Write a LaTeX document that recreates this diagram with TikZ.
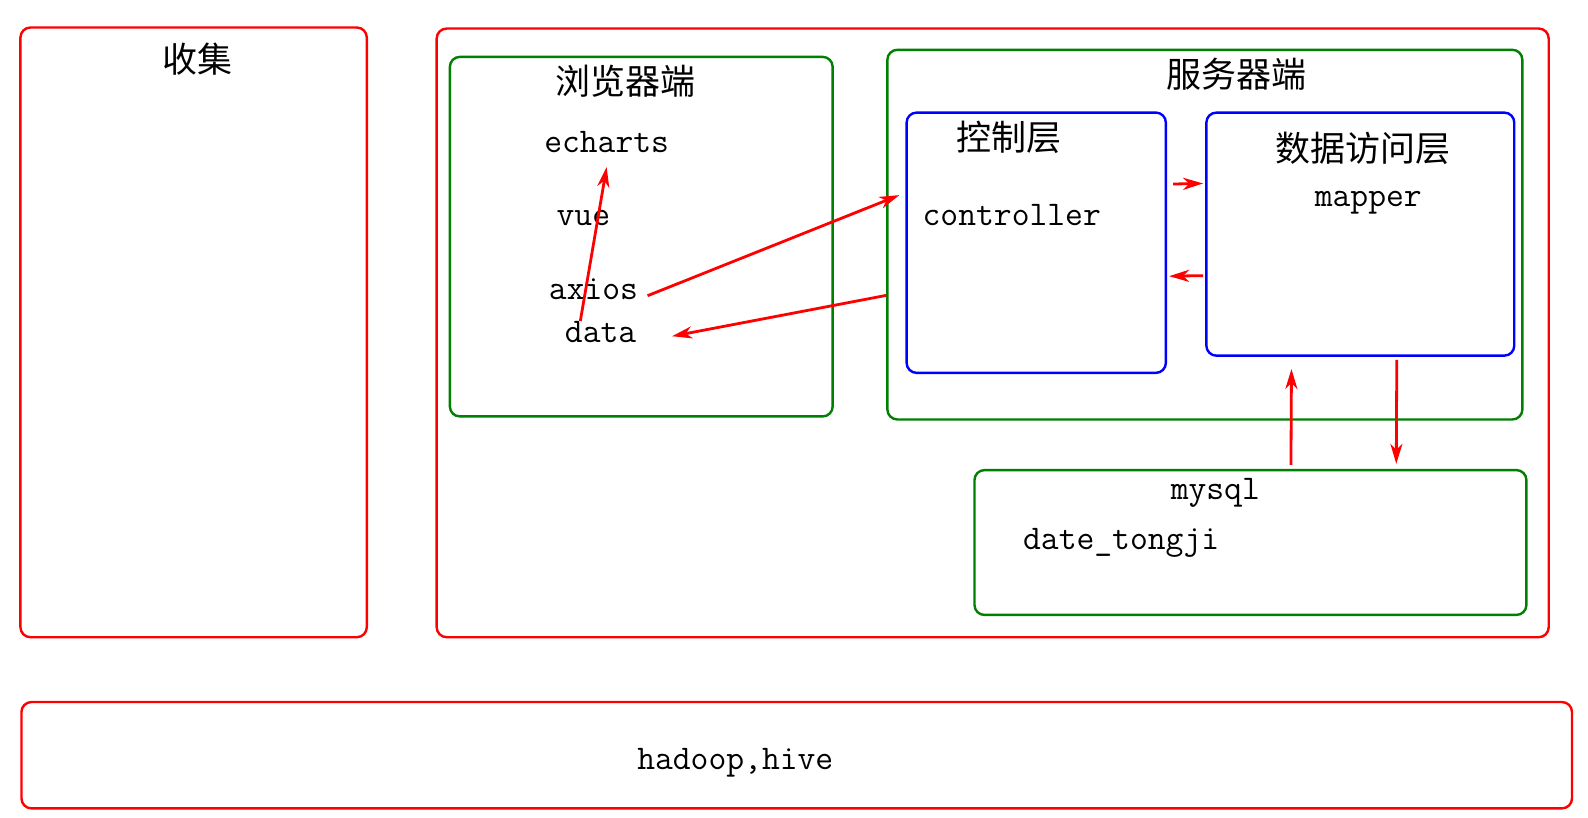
\documentclass[tikz,border=0pt]{standalone}
\usepackage{fontspec}
\newfontfamily\cjk{Noto Sans CJK SC}
\usetikzlibrary{arrows.meta, calc}
\definecolor{boxgreen}{RGB}{0,128,0}
\newcommand\px{0.50638pt}

\begin{document}
\begin{tikzpicture}[x=\px, y=-\px,
    box/.style={draw, line width=1.2pt, rounded corners=5pt, anchor=north west, inner sep=0pt},
    redbox/.style={box, red},
    greenbox/.style={box, boxgreen},
    bluebox/.style={box, blue},
    title/.style={inner sep=0pt, font=\cjk\fontsize{17.5}{20}\selectfont},
    word/.style={inner sep=0pt, font=\ttfamily\fontsize{17.3}{20}\selectfont},
    arr/.style={-{Stealth[length=10pt, width=6pt, inset=3pt]}, red, line width=1.4pt}]
    \useasboundingbox (0,0) rectangle (1568,807.7);

    % outer boxes
    \node[redbox, minimum width=342*\px, minimum height=602*\px]  (collect) at (19,26)  {};
    \node[redbox, minimum width=1098*\px, minimum height=601*\px] (app)     at (430,27) {};
    \node[redbox, minimum width=1531*\px, minimum height=105*\px] (hadoop)  at (20,692) {};
    \node[title] (collect title) at (195,58) {收集};
    \node[word]  (hadoop text)   at (726,753) {hadoop,hive};

    % browser
    \node[greenbox, minimum width=378*\px, minimum height=355*\px] (browser) at (443,55) {};
    \node[title] (browser title) at (618,80)  {浏览器端};
    \node[word]  (echarts)       at (599,140) {echarts};
    \node[word]  (vue)           at (576,215) {vue};
    \node[word]  (axios)         at (586,286) {axios};
    \node[word]  (data)          at (593,328) {data};

    % server
    \node[greenbox, minimum width=627*\px, minimum height=365*\px] (server) at (875,48) {};
    \node[title] (server title) at (1221,73) {服务器端};
    \node[bluebox, minimum width=256*\px, minimum height=257*\px] (ctrl) at (894,110) {};
    \node[title] (ctrl title) at (996,136) {控制层};
    \node[word]  (controller) at (999,212) {controller};
    \node[bluebox, minimum width=304*\px, minimum height=240*\px] (dao) at (1190,110) {};
    \node[title] (dao title) at (1346,146) {数据访问层};
    \node[word]  (mapper)    at (1351,200) {mapper};

    % database
    \node[greenbox, minimum width=545*\px, minimum height=143*\px] (mysql) at (961,463) {};
    \node[word] (mysql text) at (1200,487) {mysql};
    \node[word] (table)      at (1107,536) {date\_tongji};

    \draw[arr] ([shift={(-20,0)}]data.north) -- ([shift={(0,14)}]echarts.south);
    \draw[arr] ([shift={(9,6)}]axios.east) -- ([shift={(-6,-47)}]ctrl.west);
    \draw[arr] ([shift={(0,60)}]server.west) -- ([shift={(35,4)}]data.east);
    \draw[arr] ([shift={(6,-58)}]ctrl.east) -- ([shift={(-2,-50)}]dao.west);
    \draw[arr] ([shift={(-2,41)}]dao.west) -- ([shift={(2,33)}]ctrl.east);
    \draw[arr] ([shift={(40,-4)}]mysql.north) -- ([shift={(-68,12)}]dao.south);
    \draw[arr] ([shift={(36,3)}]dao.south) -- ([shift={(144,-5)}]mysql.north);
\end{tikzpicture}
\end{document}
